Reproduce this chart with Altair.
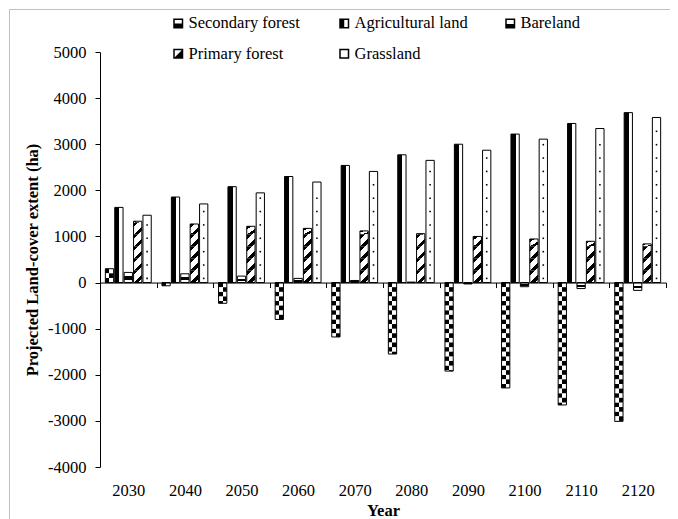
import math
import altair as alt
import pandas as pd

# ---------------- data ----------------
years = ["2030", "2040", "2050", "2060", "2070", "2080", "2090", "2100", "2110", "2120"]
series = ["Secondary forest", "Agricultural land", "Bareland", "Primary forest", "Grassland"]
secondary = [300, -70, -450, -800, -1180, -1550, -1920, -2285, -2655, -3010]
agricultural = [1630, 1855, 2080, 2300, 2540, 2770, 3000, 3220, 3450, 3685]
bareland = [220, 190, 140, 90, 45, 10, -30, -90, -130, -170]
primary = [1330, 1270, 1220, 1175, 1120, 1060, 1000, 945, 895, 838]
grassland = [1460, 1705, 1945, 2180, 2410, 2650, 2870, 3110, 3340, 3580]
y_ticks = [-4000, -3000, -2000, -1000, 0, 1000, 2000, 3000, 4000, 5000]

FONT = "Liberation Serif"
FS = 16.5
W, H = 566, 415
YMIN, YMAX = -4000, 5000
zero_off = -H * (0 - YMIN) / (YMAX - YMIN)
zero_px = H + zero_off  # pixel of the zero line from the plot top

rows = []
for name, vals in zip(series, [secondary, agricultural, bareland, primary, grassland]):
    for yr, v in zip(years, vals):
        rows.append({"year": yr, "series": name, "value": v})
df = pd.DataFrame(rows)


def cells(vals, name, step):
    out = []
    for yr, v in zip(years, vals):
        s = 1 if v >= 0 else -1
        n = math.ceil(abs(v) / step)
        for k in range(n):
            out.append({"year": yr, "series": name, "lo": s * k * step,
                        "hi": s * min((k + 1) * step, abs(v)), "k": k % 2})
    return pd.DataFrame(out)


sec_cells = cells(secondary, "Secondary forest", 100)
prim_cells = cells(primary, "Primary forest", 260)

dots = []
for yr, v in zip(years, grassland):
    d = 90
    while d < v - 60:
        dots.append({"year": yr, "series": "Grassland", "value": d})
        d += 290
dots_df = pd.DataFrame(dots)

# ---------------- scales / axes ----------------
xscale = alt.Scale(domain=years, paddingInner=0, paddingOuter=0)
xaxis = alt.Axis(orient="bottom", offset=zero_off, domain=True, domainColor="black",
                 domainWidth=1, ticks=True, tickSize=5, tickColor="black",
                 tickBand="extent", labelPadding=195, labelFont=FONT, labelFontSize=FS,
                 labelColor="black", labelAngle=0, titleFont=FONT, titleFontSize=FS,
                 titleFontWeight="bold", titleColor="black", titleBaseline="alphabetic",
                 titleY=(H - zero_px) + 48, grid=False, zindex=1)
X = alt.X("year:N", scale=xscale, axis=xaxis, title="Year", sort=years)

yscale = alt.Scale(domain=[YMIN, YMAX], nice=False, zero=False)
yaxis = alt.Axis(values=y_ticks, domain=True, domainColor="black", ticks=True, tickSize=5,
                 tickColor="black", labelPadding=9, labelFont=FONT, labelFontSize=FS,
                 labelColor="black", labelExpr="datum.value + ''", titleFont=FONT,
                 titleFontSize=FS, titleFontWeight="bold", titleColor="black",
                 titlePadding=7, grid=False, zindex=1)
TITLE_Y = "Projected Land-cover extent (ha)"

xoff = alt.XOffset("series:N", scale=alt.Scale(domain=series, paddingInner=0.12, paddingOuter=0.57))


def Y(field):
    return alt.Y(field, scale=yscale, axis=yaxis, title=TITLE_Y)


def grad(x1, y1, x2, y2, stops):
    return {"gradient": "linear", "x1": x1, "y1": y1, "x2": x2, "y2": y2,
            "stops": [{"offset": o, "color": c} for o, c in stops]}


g_agri = grad(0, 0, 1, 0, [(0, "black"), (0.55, "black"), (0.55, "white"), (1, "white")])
g_bare = grad(0, 0, 0, 1, [(0, "white"), (0.4, "white"), (0.4, "black"), (0.75, "black"),
                           (0.75, "white"), (1, "white")])
g_sec_a = grad(0, 0, 1, 0, [(0, "black"), (0.5, "black"), (0.5, "white"), (1, "white")])
g_sec_b = grad(0, 0, 1, 0, [(0, "white"), (0.5, "white"), (0.5, "black"), (1, "black")])
g_prim = grad(0, 0, 0.935, 1.355, [(0, "black"), (0.2, "black"), (0.2, "white"), (0.5, "white"),
                                   (0.5, "black"), (0.7, "black"), (0.7, "white"), (1, "white")])

base = alt.Chart(df).encode(x=X, y=Y("value:Q"), xOffset=xoff)

border = alt.Chart(alt.Data(values=[{"a": 1}])).mark_rect(
    fillOpacity=0, stroke="#c0c0c0", strokeWidth=1
).encode(x=alt.value(-90.5), x2=alt.value(700), y=alt.value(-42.5), y2=alt.value(700))

white = base.mark_bar(fill="white")
agri = base.transform_filter(alt.datum.series == "Agricultural land").mark_bar(fill=g_agri)
bare = base.transform_filter(alt.datum.series == "Bareland").mark_bar(fill=g_bare)

sec_a = alt.Chart(sec_cells).transform_filter(alt.datum.k == 0).mark_bar(fill=g_sec_a).encode(
    x=X, y=Y("lo:Q"), y2="hi:Q", xOffset=xoff)
sec_b = alt.Chart(sec_cells).transform_filter(alt.datum.k == 1).mark_bar(fill=g_sec_b).encode(
    x=X, y=Y("lo:Q"), y2="hi:Q", xOffset=xoff)
prim = alt.Chart(prim_cells).mark_bar(fill=g_prim).encode(
    x=X, y=Y("lo:Q"), y2="hi:Q", xOffset=xoff)

dot_layer = alt.Chart(dots_df).mark_square(size=2.5, color="black", opacity=1, xOffset=2.8).encode(
    x=X, y=Y("value:Q"), xOffset=xoff)

outline = base.mark_bar(fillOpacity=0, stroke="black", strokeWidth=1)

ring = "M-1,-1H1V1H-1Z M-0.7,-0.7V0.7H0.7V-0.7Z"
paths = [
    ring + " M-0.7,0H0.7V0.7H-0.7Z",
    ring + " M-0.7,-0.7H0V0.7H-0.7Z",
    ring + " M-0.7,0.1H0.7V0.7H-0.7Z",
    ring + " M0.7,-0.7V0.7H-0.7Z",
    ring,
]
legend_layer = alt.Chart(df).transform_filter("false").mark_point(
    filled=True, color="black", size=100, opacity=1
).encode(
    x=X, y=Y("value:Q"), xOffset=xoff,
    shape=alt.Shape("series:N", scale=alt.Scale(domain=series, range=paths),
                    legend=alt.Legend(orient="none", legendX=70, legendY=-37, direction="horizontal",
                                      columns=3, title=None, labelFont=FONT, labelFontSize=FS,
                                      labelColor="black", symbolSize=100, symbolStrokeWidth=0,
                                      symbolFillColor="black", labelOffset=2, columnPadding=34,
                                      rowPadding=13.5, gridAlign="all", padding=0, labelLimit=0))
)

chart = alt.layer(
    border, white, agri, bare, sec_a, sec_b, prim, dot_layer, outline, legend_layer
).properties(
    width=W, height=H,
    autosize=alt.AutoSizeParams(type="none"),
    padding={"left": 92, "top": 44, "right": 4, "bottom": 52},
    background="white",
).configure_view(stroke=None)

chart.save("out.html", embed_options={"renderer": "svg", "actions": False})
